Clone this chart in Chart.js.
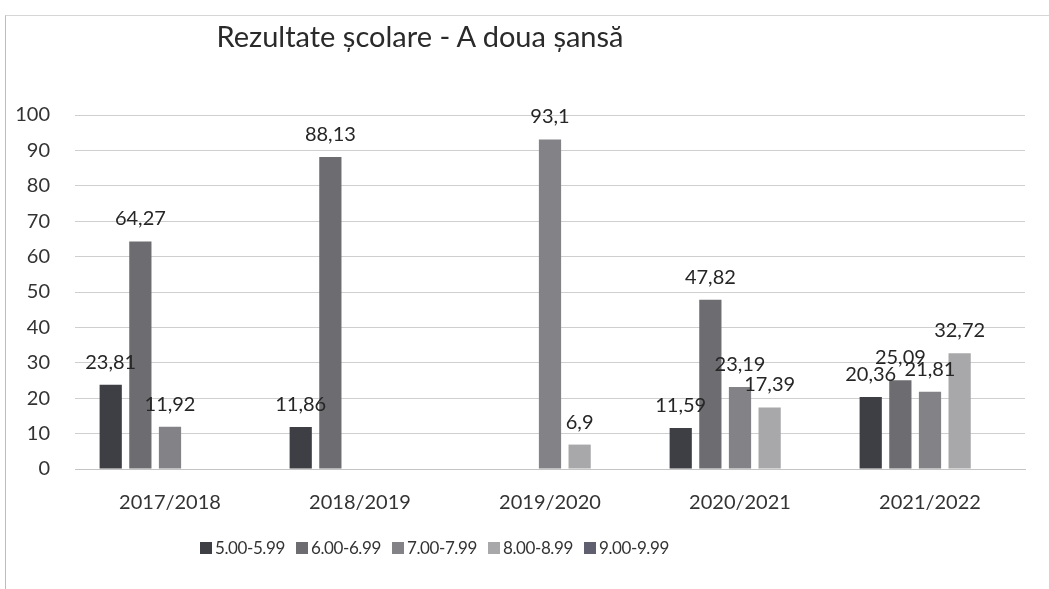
<!DOCTYPE html>
<html>
<head>
<meta charset="utf-8">
<script src="https://cdn.jsdelivr.net/npm/chart.js@4"></script>
<style>
    body { margin: 0; background: #fff; }
    #wrap { position: relative; width: 1049px; height: 589px; }
    #frame { position: absolute; left: 5px; top: 15px; width: 1044px; height: 574px;
        border-left: 1px solid #bdbdbd; border-top: 1px solid #d6d6d6; }
    #title { position: absolute; left: 0; width: 840px; top: 18px; text-align: center;
        font: 29px Lato, "Open Sans", sans-serif; color: #2a2a2a; }
    #legend { position: absolute; left: 200px; top: 537px;
        font: 17px Lato, "Open Sans", sans-serif; color: #333; }
    #legend span.item { display: inline-block; width: 96px; white-space: nowrap; letter-spacing: -0.4px; }
    #legend span.box { display: inline-block; width: 12px; height: 12px; margin-right: 3px; }
</style>
</head>
<body>
<div id="wrap">
    <div id="frame"></div>
    <canvas id="barChart" width="1049" height="589"></canvas>
    <div id="title">Rezultate școlare - A doua șansă</div>
    <div id="legend"></div>
</div>
<script>
const labels = ["2017/2018", "2018/2019", "2019/2020", "2020/2021", "2021/2022"];
const seriesNames = ["5.00-5.99", "6.00-6.99", "7.00-7.99", "8.00-8.99", "9.00-9.99"];
const note5 = [23.81, 11.86, null, 11.59, 20.36];
const note6 = [64.27, 88.13, null, 47.82, 25.09];
const note7 = [11.92, null, 93.1, 23.19, 21.81];
const note8 = [null, null, 6.9, 17.39, 32.72];
const note9 = [null, null, null, null, null];
const yTicks = [0, 10, 20, 30, 40, 50, 60, 70, 80, 90, 100];

const colors = ["#3e3e45", "#6c6c71", "#838387", "#a8a8aa", "#5f5f70"];
const series = [note5, note6, note7, note8, note9];

const valueLabels = {
    id: "valueLabels",
    afterDatasetsDraw(chart) {
        const ctx = chart.ctx;
        ctx.save();
        ctx.font = "20px Lato, 'Open Sans', sans-serif";
        ctx.fillStyle = "#262626";
        ctx.textAlign = "center";
        ctx.textBaseline = "alphabetic";
        chart.data.datasets.forEach(function (ds, i) {
            chart.getDatasetMeta(i).data.forEach(function (bar, j) {
                const v = ds.data[j];
                if (v === null || v === undefined) return;
                ctx.fillText(String(v).replace(".", ","), bar.x, bar.y - 16);
            });
        });
        ctx.restore();
    },
};

new Chart(document.getElementById("barChart").getContext("2d"), {
    type: "bar",
    data: {
        labels: labels,
        datasets: series.map(function (d, i) {
            return {
                label: seriesNames[i],
                data: d,
                backgroundColor: colors[i],
                categoryPercentage: 0.78,
                barPercentage: 0.75,
            };
        }),
    },
    options: {
        responsive: false,
        animation: false,
        layout: { padding: { left: 15, right: 24, top: 115, bottom: 75 } },
        plugins: {
            legend: { display: false },
            title: { display: false },
            tooltip: { enabled: false },
        },
        scales: {
            x: {
                afterFit: function (s) { s.height = 45; },
                grid: { display: false },
                border: { display: true, color: "#c4c4c4" },
                ticks: { color: "#333", font: { size: 20, family: "Lato" }, padding: 14 },
            },
            y: {
                min: 0,
                max: 100,
                afterBuildTicks: function (s) { s.ticks = yTicks.map(function (v) { return { value: v }; }); },
                afterFit: function (s) { s.width = 60; },
                grid: { color: "#cfcfcf", drawTicks: false },
                border: { display: false },
                ticks: { color: "#333", font: { size: 20, family: "Lato" }, padding: 25 },
            },
        },
    },
    plugins: [valueLabels],
});

const legend = document.getElementById("legend");
seriesNames.forEach(function (name, i) {
    const item = document.createElement("span");
    item.className = "item";
    item.innerHTML = '<span class="box" style="background:' + colors[i] + '"></span>' + name;
    legend.appendChild(item);
});
</script>
</body>
</html>
